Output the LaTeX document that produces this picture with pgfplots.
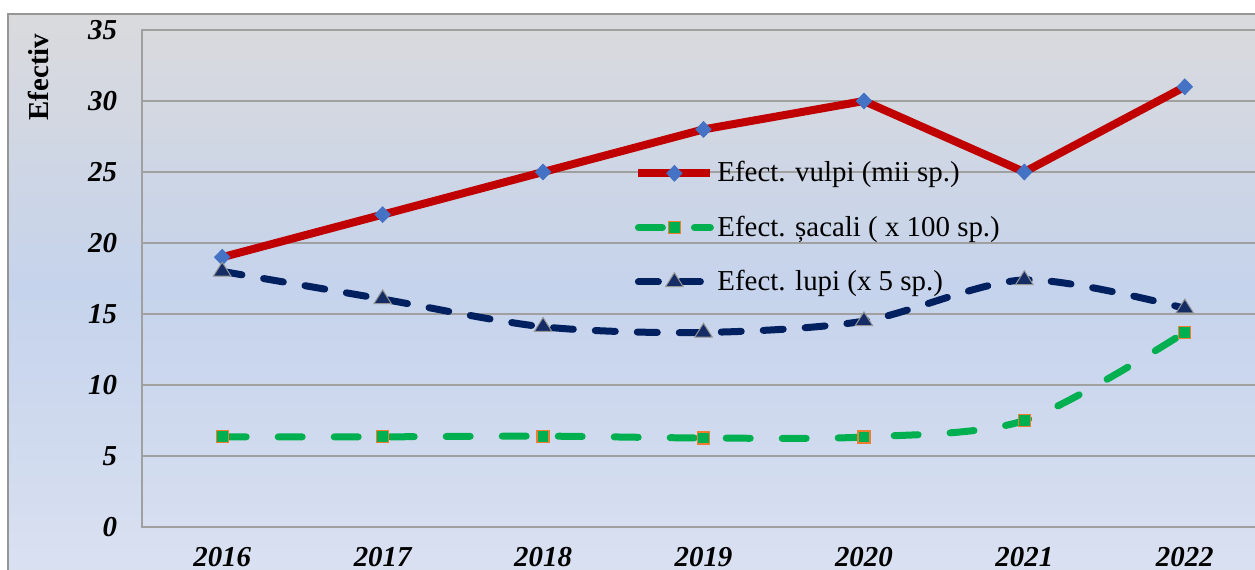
\documentclass[border=0pt]{standalone}
\usepackage{pgfplots}
\pgfplotsset{compat=1.18}
\usepackage{fontspec}
\setmainfont{Liberation Serif}
\definecolor{bgtop}{RGB}{218,218,220}
\definecolor{bgmid}{RGB}{197,211,236}
\definecolor{bgbot}{RGB}{221,227,242}
\definecolor{gridgray}{RGB}{160,160,160}
\definecolor{outergray}{RGB}{150,150,150}
\definecolor{vred}{RGB}{192,0,0}
\definecolor{vblue}{RGB}{68,114,196}
\definecolor{sgreen}{RGB}{0,176,80}
\definecolor{sorange}{RGB}{237,125,49}
\definecolor{lnavy}{RGB}{0,32,96}
\definecolor{tnavy}{RGB}{22,44,100}
\definecolor{tgray}{RGB}{150,150,150}
\begin{document}
\begin{tikzpicture}
\begin{scope}[x=0.5bp,y=-0.5bp]
\shade[top color=bgtop,bottom color=bgmid] (8,14) rectangle (1300,290);
\shade[top color=bgmid,bottom color=bgbot] (8,289.5) rectangle (1300,620);
\draw[line width=0.6bp, outergray] (8,14) rectangle (1300,620);
\end{scope}
\begin{axis}[
  at={(71bp,-263.5bp)}, anchor=south west,
  scale only axis, width=561.5bp, height=248.5bp,
  xmin=-0.5, xmax=6.5, ymin=0, ymax=35,
  xtick={0,1,2,3,4,5,6},
  xticklabels={2016,2017,2018,2019,2020,2021,2022},
  ytick={0,5,10,15,20,25,30,35},
  ymajorgrids,
  grid style={gridgray, line width=0.9bp},
  axis line style={gridgray, line width=0.9bp},
  major tick length=0pt,
  /pgf/number format/assume math mode=true,
  tick label style={font=\fontsize{14.5}{16}\selectfont\bfseries\itshape},
  yticklabel style={xshift=-9bp},
  xticklabel style={yshift=-6.5bp},
  ylabel={Efectiv},
  every axis y label/.style={at={(rel axis cs:-0.0926,0.905)}, rotate=90, anchor=center,
     font=\fontsize{14.5}{16}\selectfont\bfseries},
  legend style={at={(rel axis cs:0.4328,0.75)}, anchor=north west, draw=none, fill=none,
     font=\fontsize{14.5}{16}\selectfont, row sep=12.5bp,
     nodes={inner sep=1.5bp}},
  legend cell align=left,
  legend image code/.code={\draw[mark repeat=2,mark phase=2,#1] plot coordinates {(0bp,0bp) (18bp,0bp) (36bp,0bp)};},
]
\addplot[vred, line width=4bp, mark=diamond*, mark size=4bp,
  mark options={fill=vblue, draw=vblue, line width=0.3bp, xscale=1.3}]
  coordinates {(0,19) (1,22) (2,25) (3,28) (4,30) (5,25) (6,31)};
\addlegendentry{Efect. vulpi (mii sp.)}
\addplot[sgreen, line width=3.5bp, smooth, line cap=round, dash pattern=on 12bp off 16bp,
  mark=square*, mark size=3bp,
  mark options={solid, fill=sgreen, draw=sorange, line width=0.6bp}]
  coordinates {(0,6.35) (1,6.35) (2,6.4) (3,6.27) (4,6.34) (5,7.5) (6,13.7)};
\addlegendentry{Efect. șacali ( x 100 sp.)}
\addplot[lnavy, line width=3.5bp, smooth, line cap=round, dash pattern=on 10bp off 11bp,
  mark=triangle*, mark size=4.6bp,
  mark options={solid, fill=tnavy, draw=tgray, line width=0.5bp, xscale=1.1}]
  coordinates {(0,18.0) (1,16.05) (2,14.1) (3,13.7) (4,14.5) (5,17.4) (6,15.4)};
\addlegendentry{Efect. lupi (x 5 sp.)}
\end{axis}
\pgfresetboundingbox
\useasboundingbox (0bp,0bp) rectangle (627.5bp,-285bp);
\end{tikzpicture}
\end{document}
